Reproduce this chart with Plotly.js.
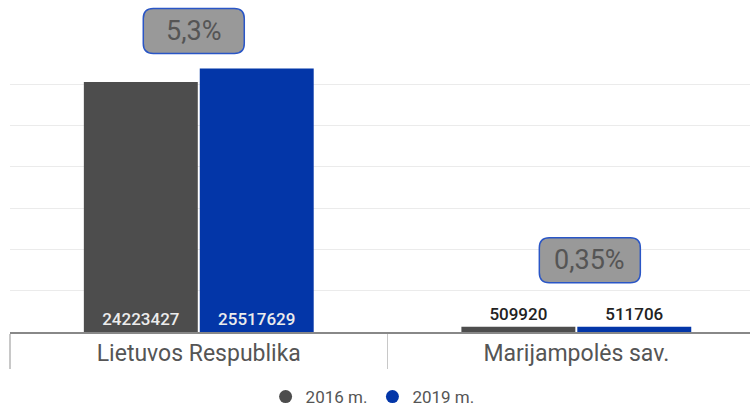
<!DOCTYPE html>
<html>
<head>
<meta charset="utf-8">
<script src="https://cdn.plot.ly/plotly-3.0.1.min.js"></script>
<style>html,body{margin:0;padding:0;background:#fff;overflow:hidden}#chart{width:750px;height:407px}</style>
</head>
<body>
<div id="chart"></div>
<script>
const categories = ["Lietuvos Respublika", "Marijampolės sav."];
const seriesNames = ["2016 m.", "2019 m."];
const values2016 = [24223427, 509920];
const values2019 = [25517629, 511706];
const changeLabels = ["5,3%", "0,35%"];
const gridValues = [4e6, 8e6, 12e6, 16e6, 20e6, 24e6];
const colors = ["#4d4d4d", "#0336a8"];

const textPos = v => v.map(x => x > 3e6 ? "inside" : "outside");
const fmt = v => v.map(x => String(x));

function barTrace(name, vals, color) {
  return {
    type: "bar", name: name, x: categories, y: vals,
    marker: {color: color},
    text: fmt(vals), textposition: textPos(vals), insidetextanchor: "start",
    textangle: 0, constraintext: "none", cliponaxis: false,
    insidetextfont: {family: "Roboto", size: 17, color: "#ececec", weight: 500},
    outsidetextfont: {family: "Roboto", size: 17, color: "#222", weight: 500},
    showlegend: false, hoverinfo: "skip"
  };
}
function legendTrace(name, color) {
  return {type: "scatter", mode: "markers", name: name, x: [null], y: [null],
    marker: {color: color, size: 13, symbol: "circle"}, hoverinfo: "skip"};
}

const traces = [
  barTrace(seriesNames[0], values2016, colors[0]),
  barTrace(seriesNames[1], values2019, colors[1]),
  legendTrace(seriesNames[0], colors[0]),
  legendTrace(seriesNames[1], colors[1])
];

// rounded callout boxes
const boxW = 101, boxH = 45, r = 10;
function roundedPath(cx, cy) {
  const x0 = cx - boxW/2, x1 = cx + boxW/2, y0 = cy - boxH/2, y1 = cy + boxH/2;
  return `M${x0+r},${y0} L${x1-r},${y0} Q${x1},${y0} ${x1},${y0+r} L${x1},${y1-r} Q${x1},${y1} ${x1-r},${y1} L${x0+r},${y1} Q${x0},${y1} ${x0},${y1-r} L${x0},${y0+r} Q${x0},${y0} ${x0+r},${y0} Z`;
}
const boxOffsets = [{dx: -5, dy: 37.5}, {dx: 13.5, dy: 66.5}];
const shapes = [], annotations = [];
categories.forEach((c, i) => {
  const top = Math.max(values2016[i], values2019[i]);
  const o = boxOffsets[i];
  shapes.push({
    type: "path", xref: "x", yref: "y", xsizemode: "pixel", ysizemode: "pixel",
    xanchor: i, yanchor: top, path: roundedPath(o.dx, o.dy),
    fillcolor: "#999999", line: {color: "#2a56c6", width: 1.5}, layer: "above"
  });
  annotations.push({
    x: i, y: top, xref: "x", yref: "y", text: changeLabels[i], showarrow: false,
    xshift: o.dx, yshift: o.dy, font: {family: "Roboto", size: 27, color: "#555"}
  });
});

const layout = {
  width: 750, height: 407,
  margin: {l: 10, r: 0, t: 2, b: 75},
  paper_bgcolor: "#fff", plot_bgcolor: "#fff",
  barmode: "group", bargap: 0.386, bargroupgap: 0.017,
  showlegend: true,
  legend: {orientation: "h", x: 0.49, xanchor: "center", xref: "paper",
    y: 10/407, yanchor: "middle", yref: "container",
    font: {family: "Roboto", size: 17, color: "#555"}, itemwidth: 30, tracegroupgap: 0},
  xaxis: {
    type: "category", range: [-0.5, 1.46], tickson: "boundaries",
    ticks: "outside", ticklen: 35, tickcolor: "#c8c8c8", tickwidth: 1.5,
    showline: true, linecolor: "#888", linewidth: 1.5, showgrid: false,
    tickfont: {family: "Roboto", size: 23, color: "#555"}, fixedrange: true
  },
  yaxis: {
    range: [0, 31.97e6], tickmode: "array", tickvals: gridValues, showticklabels: false, ticks: "",
    gridcolor: "#ebebeb", gridwidth: 1, zeroline: false, fixedrange: true
  },
  shapes: shapes, annotations: annotations
};

Plotly.newPlot("chart", traces, layout, {displayModeBar: false, staticPlot: true});
</script>
</body>
</html>
